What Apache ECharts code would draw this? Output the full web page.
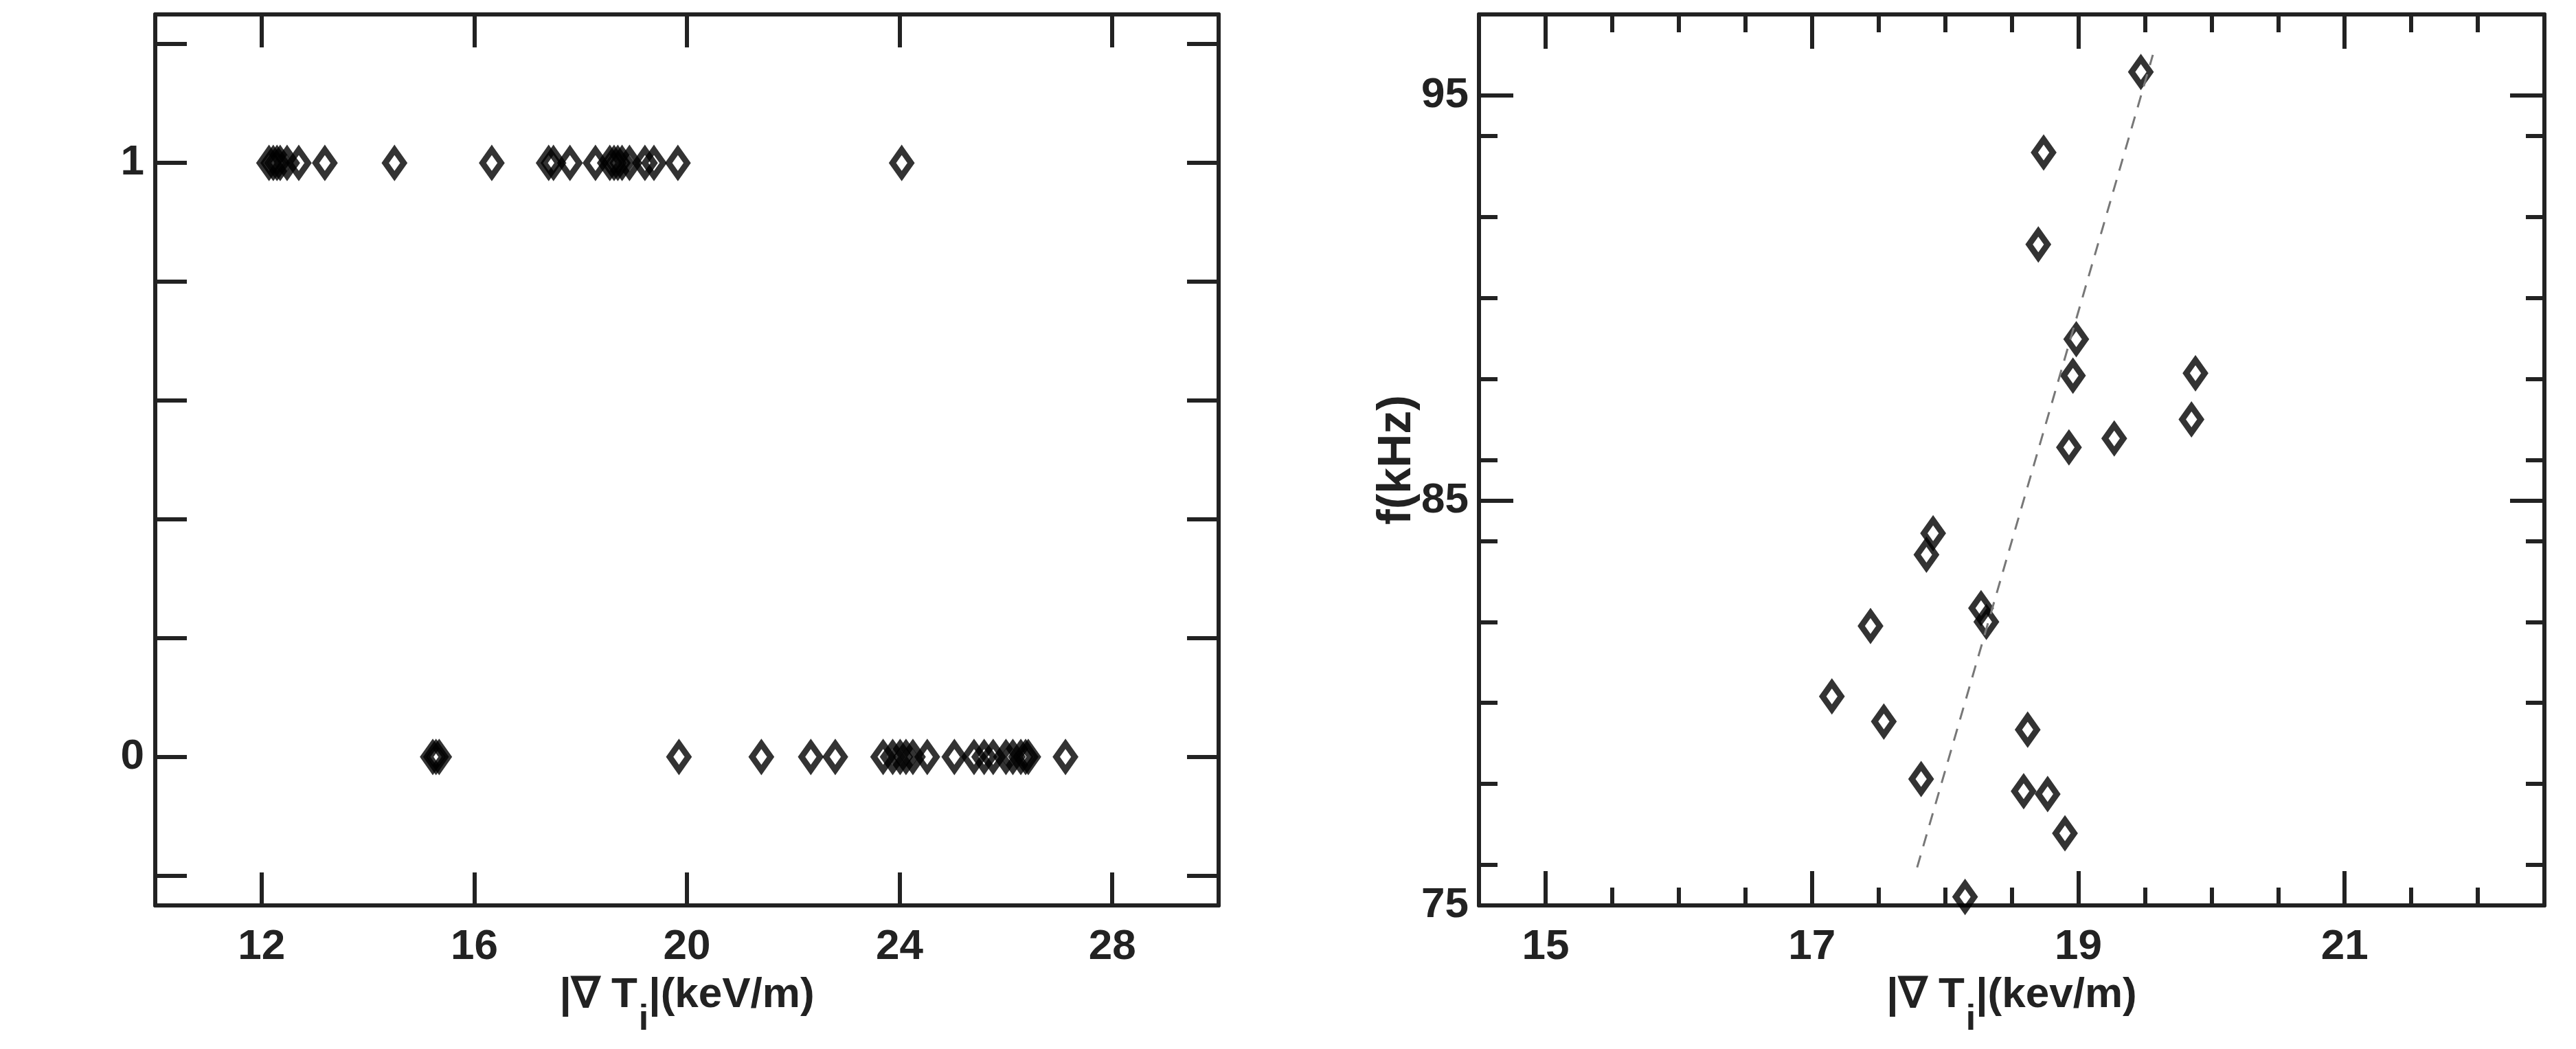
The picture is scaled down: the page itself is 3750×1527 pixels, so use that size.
<!DOCTYPE html>
<html><head><meta charset="utf-8">
<script src="https://cdn.jsdelivr.net/npm/echarts@6/dist/echarts.min.js"></script>
<style>html,body{margin:0;padding:0;background:#fff}#c{width:3750px;height:1527px}</style>
</head><body><div id="c"></div>
<script>
// ---------- Left panel data ----------
const leftXAtOne = [12.14,12.22,12.29,12.35,12.48,12.70,13.19,14.50,16.33,17.40,17.49,17.80,18.28,18.55,18.63,18.70,18.78,18.92,19.21,19.38,19.83,24.04];
const leftXAtZero = [15.22,15.28,15.34,19.85,21.40,22.33,22.79,23.69,23.87,24.01,24.12,24.25,24.52,25.03,25.40,25.59,25.76,26.00,26.13,26.28,26.37,26.42,27.12];
const leftXTicks = [12,16,20,24,28];
const leftYTicks = [-0.2,0,0.2,0.4,0.6,0.8,1,1.2];
const leftYLabels = [0,1];

// ---------- Right panel data ----------
const rightX = [19.47,18.74,18.70,18.985,18.96,19.88,19.85,18.93,19.27,17.91,17.86,18.27,18.31,17.44,17.15,17.54,18.62,17.82,18.59,18.77,18.90,18.15];
const rightF = [95.58,93.59,91.32,88.98,88.08,88.14,87.0,86.31,86.53,84.19,83.66,82.34,82.0,81.9,80.16,79.54,79.34,78.12,77.82,77.75,76.78,75.21];
const fitX = [17.79, 19.56];
const fitF = [75.94, 96.0];
const rightXMajor = [15,17,19,21];
const rightXMinor = [15.5,16,16.5,17.5,18,18.5,19.5,20,20.5,21.5,22];
const rightYMajor = [75,85,95];
const rightYMinor = [76,78,80,82,84,86,88,90,92,94];

const font = "'Liberation Sans', Arial, sans-serif";
const ink = '#222';

function ax(o) {
  return {
    type: 'value', gridIndex: o.g, min: o.min, max: o.max, position: o.pos,
    axisLine: { show: o.line !== false, onZero: false, lineStyle: { color: ink, width: 6 } },
    axisTick: { show: true, inside: true, length: o.len, customValues: o.ticks, lineStyle: { color: ink, width: 6 } },
    axisLabel: o.labels ? { show: true, customValues: o.labels, margin: o.margin, color: ink, fontSize: 62, fontWeight: 'bold', fontFamily: font } : { show: false },
    splitLine: { show: false }, minorTick: { show: false }, minorSplitLine: { show: false },
    name: o.name || '', nameLocation: 'middle', nameGap: o.nameGap || 0, nameRotate: o.nameRotate,
    nameMoveOverlap: false,
    nameTextStyle: o.nameStyle || {}
  };
}

const xName = '{a||\u2207 T}{s|i}{a||(keV/m)}';
const xName2 = '{a||\u2207 T}{s|i}{a||(kev/m)}';
const nameRich = {
  fontFamily: font, fontWeight: 'bold', color: ink,
  rich: {
    a: { fontSize: 62, fontWeight: 'bold', fontFamily: font, color: ink, lineHeight: 70 },
    s: { fontSize: 52, fontWeight: 'bold', fontFamily: font, color: ink, lineHeight: 52, padding: [72, 0, 0, 2] }
  }
};

const mark = { color: 'rgba(0,0,0,0)', borderColor: '#000', borderWidth: 9, borderJoin: 'miter', borderMiterLimit: 10 };
const msize = [27, 38];

const option = {
  animation: false,
  backgroundColor: '#fff',
  grid: [
    { left: 226, top: 21, width: 1548, height: 1297, containLabel: false, outerBoundsMode: 'none' },
    { left: 2153, top: 21, width: 1551, height: 1297, containLabel: false, outerBoundsMode: 'none' }
  ],
  xAxis: [
    ax({ g: 0, min: 10, max: 30, pos: 'bottom', len: 48, ticks: leftXTicks, labels: leftXTicks, margin: 30, name: xName, nameGap: 96, nameStyle: nameRich }),
    ax({ g: 0, min: 10, max: 30, pos: 'top', len: 48, ticks: leftXTicks }),
    ax({ g: 1, min: 14.5, max: 22.5, pos: 'bottom', len: 50, ticks: rightXMajor, labels: rightXMajor, margin: 30, name: xName2, nameGap: 96, nameStyle: nameRich }),
    ax({ g: 1, min: 14.5, max: 22.5, pos: 'bottom', len: 26, ticks: rightXMinor, line: false }),
    ax({ g: 1, min: 14.5, max: 22.5, pos: 'top', len: 50, ticks: rightXMajor }),
    ax({ g: 1, min: 14.5, max: 22.5, pos: 'top', len: 26, ticks: rightXMinor, line: false })
  ],
  yAxis: [
    ax({ g: 0, min: -0.25, max: 1.25, pos: 'left', len: 46, ticks: leftYTicks, labels: leftYLabels, margin: 16 }),
    ax({ g: 0, min: -0.25, max: 1.25, pos: 'right', len: 46, ticks: leftYTicks }),
    ax({ g: 1, min: 75, max: 97, pos: 'left', len: 50, ticks: rightYMajor, labels: rightYMajor, margin: 15, name: 'f(kHz)', nameGap: 85, nameRotate: 90,
         nameStyle: { fontSize: 68, fontWeight: 'bold', fontFamily: font, color: ink } }),
    ax({ g: 1, min: 75, max: 97, pos: 'left', len: 27, ticks: rightYMinor, line: false }),
    ax({ g: 1, min: 75, max: 97, pos: 'right', len: 50, ticks: rightYMajor }),
    ax({ g: 1, min: 75, max: 97, pos: 'right', len: 27, ticks: rightYMinor, line: false })
  ],
  series: [
    {
      type: 'scatter', xAxisIndex: 0, yAxisIndex: 0, silent: true,
      symbol: 'diamond', symbolSize: msize, itemStyle: mark,
      data: leftXAtOne.map(function (x) { return [x, 1]; })
    },
    {
      type: 'scatter', xAxisIndex: 0, yAxisIndex: 0, silent: true,
      symbol: 'diamond', symbolSize: msize, itemStyle: mark,
      data: leftXAtZero.map(function (x) { return [x, 0]; })
    },
    {
      type: 'line', xAxisIndex: 2, yAxisIndex: 2, silent: true, symbol: 'none',
      lineStyle: { color: '#777', width: 3, type: [18, 14] },
      data: fitX.map(function (x, i) { return [x, fitF[i]]; })
    },
    {
      type: 'scatter', xAxisIndex: 2, yAxisIndex: 2, silent: true,
      symbol: 'diamond', symbolSize: msize, itemStyle: mark,
      data: rightX.map(function (x, i) { return [x, rightF[i]]; })
    }
  ]
};

const chart = echarts.init(document.getElementById('c'), null, { renderer: 'canvas' });
chart.setOption(option);
</script>
</body></html>
